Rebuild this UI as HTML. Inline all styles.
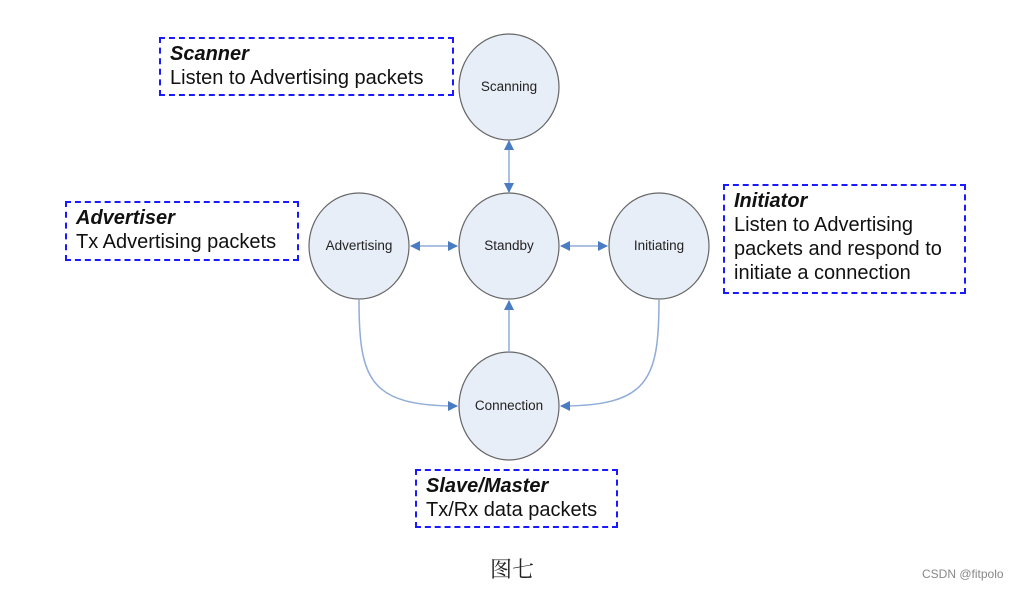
<!DOCTYPE html>
<html><head><meta charset="utf-8"><style>
body{margin:0;background:#fff;width:1020px;height:590px;overflow:hidden;position:relative;font-family:"Liberation Sans",Arial,sans-serif}
.box{position:absolute;border:2px dashed #1a1aff;box-sizing:border-box;padding:3px 0 0 9px;font-size:20px;line-height:24px;color:#111;white-space:nowrap}
.box b{font-style:italic}
</style></head><body>
<svg width="1020" height="590" style="position:absolute;left:0;top:0">
<defs><marker id="a" markerWidth="10" markerHeight="10" refX="9" refY="5" orient="auto" markerUnits="userSpaceOnUse"><path d="M0,0 L10,5 L0,10z" fill="#4a7cc4"/></marker></defs>
<g fill="#e8eef7" stroke="#666" stroke-width="1.2">
<ellipse cx="509" cy="87" rx="50" ry="53"/>
<ellipse cx="509" cy="246" rx="50" ry="53"/>
<ellipse cx="359" cy="246" rx="50" ry="53"/>
<ellipse cx="659" cy="246" rx="50" ry="53"/>
<ellipse cx="509" cy="406" rx="50" ry="54"/>
</g>
<g stroke="#90acd8" stroke-width="1.5" fill="none">
<line x1="509" y1="150" x2="509" y2="141" marker-end="url(#a)"/>
<line x1="509" y1="150" x2="509" y2="192" marker-end="url(#a)"/>
<line x1="434" y1="246" x2="411" y2="246" marker-end="url(#a)"/>
<line x1="434" y1="246" x2="457" y2="246" marker-end="url(#a)"/>
<line x1="584" y1="246" x2="561" y2="246" marker-end="url(#a)"/>
<line x1="584" y1="246" x2="607" y2="246" marker-end="url(#a)"/>
<line x1="509" y1="352" x2="509" y2="301" marker-end="url(#a)"/>
<path d="M359,300 C359,380 370,406 457,406" marker-end="url(#a)"/>
<path d="M659,300 C659,380 648,406 561,406" marker-end="url(#a)"/>
</g>
<g font-size="13.5" fill="#222" text-anchor="middle" font-family="Liberation Sans,Arial,sans-serif">
<text x="509" y="91">Scanning</text>
<text x="509" y="250">Standby</text>
<text x="359" y="250">Advertising</text>
<text x="659" y="250">Initiating</text>
<text x="509" y="410">Connection</text>
</g>
</svg>
<div class="box" style="left:159px;top:37px;width:295px;height:59px"><b>Scanner</b><br>Listen to Advertising packets</div>
<div class="box" style="left:65px;top:201px;width:234px;height:60px"><b>Advertiser</b><br>Tx Advertising packets</div>
<div class="box" style="left:723px;top:184px;width:243px;height:110px"><b>Initiator</b><br>Listen to Advertising<br>packets and respond to<br>initiate a connection</div>
<div class="box" style="left:415px;top:469px;width:203px;height:59px"><b>Slave/Master</b><br>Tx/Rx data packets</div>
<div style="position:absolute;left:490px;top:553px;font-size:22px;font-family:'Noto Serif CJK SC',serif;color:#222">图七</div>
<div style="position:absolute;left:922px;top:567px;font-size:12px;color:#888;font-family:'Liberation Sans','Noto Sans CJK SC',sans-serif">CSDN @fitpolo</div>
</body></html>
